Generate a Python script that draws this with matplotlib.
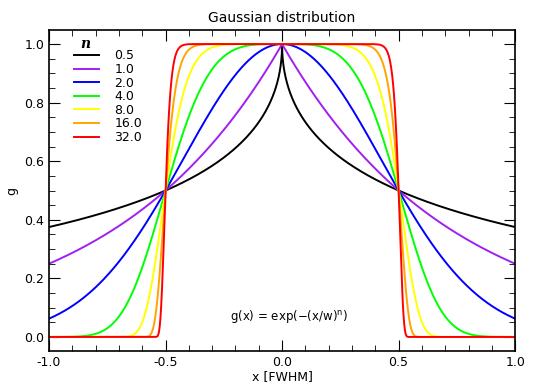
import matplotlib.pyplot as plt
import numpy as np

# wykładniki n krzywych i ich kolory
n_values = [0.5, 1.0, 2.0, 4.0, 8.0, 16.0, 32.0]
n_labels = ['0.5', '1.0', '2.0', '4.0', '8.0', '16.0', '32.0']
colors = ['black', '#a020f0', '#0000ff', '#00ff00', '#ffff00', '#ffa500', '#ff0000']

x = np.linspace(-1, 1, 2001)

fig = plt.figure(figsize=(5.49, 3.84), dpi=100)
ax = fig.add_axes([0.0893, 0.0859, 0.849, 0.836])

for n, lab, c in zip(n_values, n_labels, colors):
    w = 0.5 / np.log(2) ** (1.0 / n)   # g(0.5) = 0.5
    g = np.exp(-(np.abs(x) / w) ** n)
    ax.plot(x, g, color=c, lw=1.4, label=lab)

ax.set_xlim(-1, 1)
ax.set_ylim(-0.048, 1.048)
ax.set_xticks(np.arange(-1, 1.01, 0.5))
ax.set_xticks(np.arange(-1, 1.01, 0.1), minor=True)
ax.set_yticks(np.arange(0, 1.01, 0.2))
ax.set_yticks(np.arange(0, 1.01, 0.05), minor=True)
ax.xaxis.set_major_formatter(plt.FuncFormatter(lambda v, p: '%.1f' % v))
ax.tick_params(which='both', direction='in', top=True, right=True, labelsize=9)
ax.tick_params(which='major', length=8)
ax.tick_params(which='minor', length=4)
for s in ax.spines.values():
    s.set_linewidth(1.2)

ax.set_title('Gaussian distribution', fontsize=10, pad=6)
ax.set_xlabel('x [FWHM]', fontsize=9, labelpad=1)
ax.set_ylabel('g', fontsize=9)
ax.text(0.03, 0.07, r'g(x) = exp($-$(x/w)$^{\rm n}$)', fontsize=8.5, ha='center', va='center')

# tytuł legendy
ax.text(0.077, 0.956, 'n', transform=ax.transAxes, family='serif', style='italic',
        weight='bold', fontsize=10, ha='center', va='center')
ax.legend(loc='upper left', bbox_to_anchor=(0.03, 0.975), frameon=False,
          fontsize=9, handlelength=2.0, labelspacing=0.05, handletextpad=1.2)

fig.savefig('out.png', dpi=100)
